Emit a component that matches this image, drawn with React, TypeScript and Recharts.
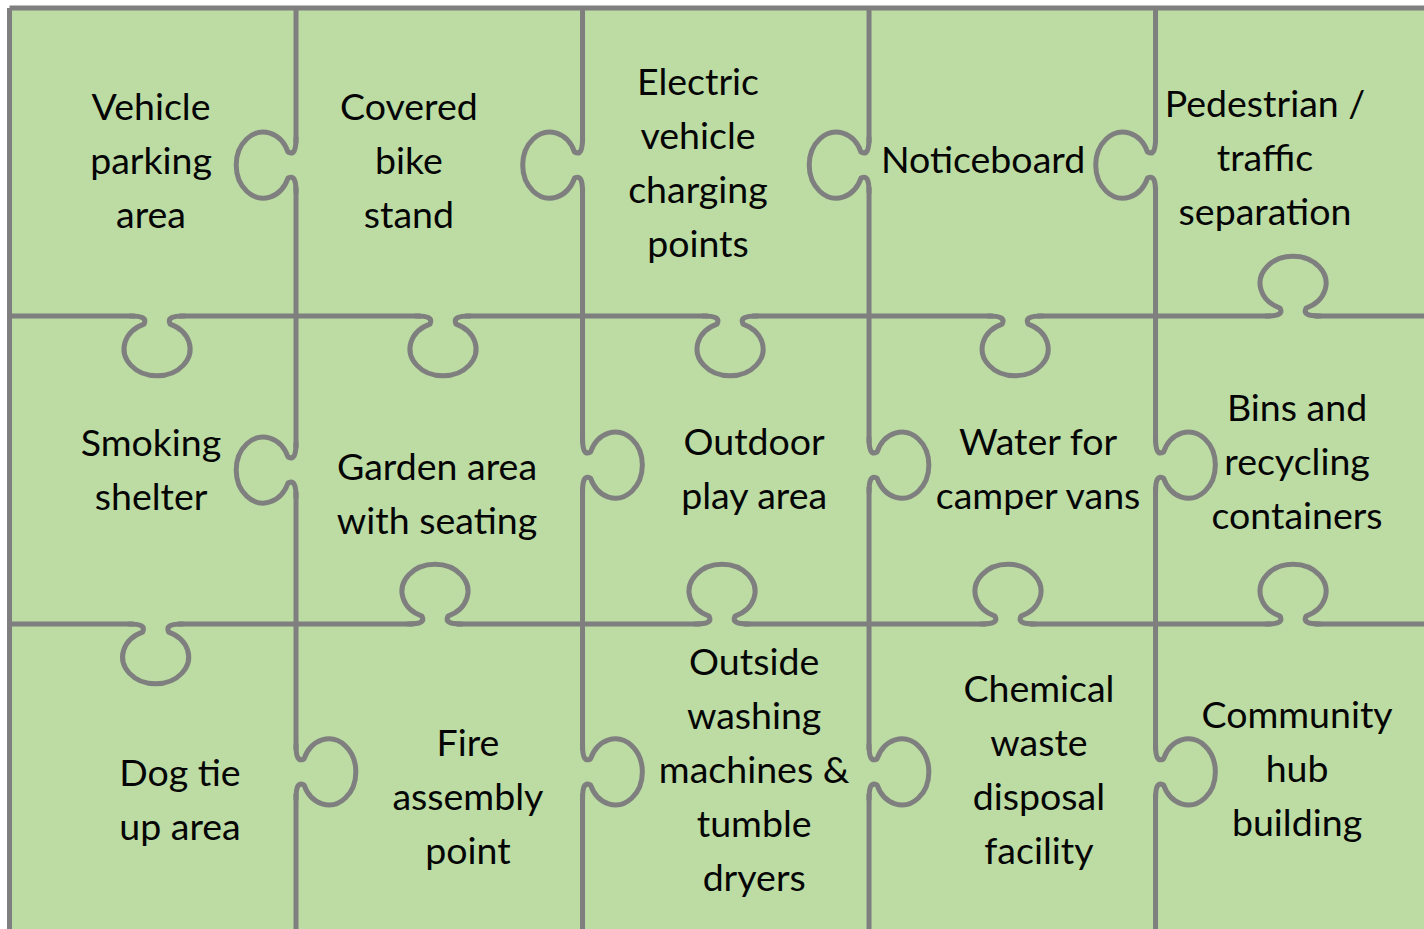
import React from 'react';
import { ScatterChart, Scatter, XAxis, YAxis, ReferenceLine, ReferenceArea } from 'recharts';

// Grid of puzzle pieces (grid units: columns 0..5, rows 0..3)
const columnEdges = [0, 1, 2, 3, 4, 5];
const rowEdges = [0, 1, 2, 3];

// Knobs: position of the neck on an edge, and the direction the knob points
const verticalKnobs = [
  { x: 1, y: 0.51, dir: 'left' },
  { x: 2, y: 0.51, dir: 'left' },
  { x: 3, y: 0.51, dir: 'left' },
  { x: 4, y: 0.51, dir: 'left' },
  { x: 1, y: 1.5, dir: 'left' },
  { x: 2, y: 1.484, dir: 'right' },
  { x: 3, y: 1.484, dir: 'right' },
  { x: 4, y: 1.484, dir: 'right' },
  { x: 1, y: 2.48, dir: 'right' },
  { x: 2, y: 2.48, dir: 'right' },
  { x: 3, y: 2.48, dir: 'right' },
  { x: 4, y: 2.48, dir: 'right' },
];

const horizontalKnobs = [
  { x: 0.515, y: 1, dir: 'down' },
  { x: 1.513, y: 1, dir: 'down' },
  { x: 2.515, y: 1, dir: 'down' },
  { x: 3.51, y: 1, dir: 'down' },
  { x: 4.48, y: 1, dir: 'up' },
  { x: 0.51, y: 2, dir: 'down' },
  { x: 1.485, y: 2, dir: 'up' },
  { x: 2.487, y: 2, dir: 'up' },
  { x: 3.485, y: 2, dir: 'up' },
  { x: 4.48, y: 2, dir: 'up' },
];

// Piece labels
const pieceLabels = [
  { x: 0.494, y: 0.497, lines: ['Vehicle', 'parking', 'area'] },
  { x: 1.394, y: 0.497, lines: ['Covered', 'bike', 'stand'] },
  { x: 2.403, y: 0.502, lines: ['Electric', 'vehicle', 'charging', 'points'] },
  { x: 3.398, y: 0.494, lines: ['Noticeboard'] },
  { x: 4.382, y: 0.487, lines: ['Pedestrian /', 'traffic', 'separation'] },
  { x: 0.494, y: 1.5, lines: ['Smoking', 'shelter'] },
  { x: 1.492, y: 1.578, lines: ['Garden area', 'with seating'] },
  { x: 2.599, y: 1.495, lines: ['Outdoor', 'play area'] },
  { x: 3.59, y: 1.495, lines: ['Water for', 'camper vans'] },
  { x: 4.494, y: 1.474, lines: ['Bins and', 'recycling', 'containers'] },
  { x: 0.595, y: 2.571, lines: ['Dog tie', 'up area'] },
  { x: 1.6, y: 2.562, lines: ['Fire', 'assembly', 'point'] },
  { x: 2.599, y: 2.474, lines: ['Outside', 'washing', 'machines &', 'tumble', 'dryers'] },
  { x: 3.593, y: 2.474, lines: ['Chemical', 'waste', 'disposal', 'facility'] },
  { x: 4.494, y: 2.471, lines: ['Community', 'hub', 'building'] },
];

const GREEN = '#BCDCA4';
const LINE = '#7F7F7F';
const LINE_W = 5;
const FONT = 'Lato, "Open Sans", sans-serif';
const FONT_SIZE = 37.5;
const LINE_HEIGHT = 54;

const ROT: Record<string, number> = { up: 0, right: 90, down: 180, left: 270 };

const KnobShape = (props: any) => {
  const { cx, cy, payload } = props;
  if (cx == null || cy == null) return null;
  return (
    <g transform={`translate(${cx},${cy}) rotate(${ROT[payload.dir]})`}>
      <rect x={-22} y={-4} width={44} height={8} fill={GREEN} />
      <path
        d="M -27 0 C -15 0 -10 -2 -13 -8 A 33 27 0 1 1 13 -8 C 10 -2 15 0 27 0"
        fill="none"
        stroke={LINE}
        strokeWidth={LINE_W}
        strokeLinejoin="round"
        strokeLinecap="round"
      />
    </g>
  );
};

const LabelShape = (props: any) => {
  const { cx, cy, payload } = props;
  if (cx == null || cy == null) return null;
  const lines: string[] = payload.lines;
  const n = lines.length;
  return (
    <text textAnchor="middle" fontFamily={FONT} fontSize={FONT_SIZE} fill="#050505">
      {lines.map((l, i) => (
        <tspan key={i} x={cx} y={cy + 13 + (i - (n - 1) / 2) * LINE_HEIGHT}>
          {l}
        </tspan>
      ))}
    </text>
  );
};

export default function App() {
  const xMax = columnEdges[columnEdges.length - 1];
  const yMax = rowEdges[rowEdges.length - 1];
  return (
    <div style={{ position: 'absolute', left: 0, top: 0, width: 1424, height: 929, background: '#ffffff' }}>
      <ScatterChart width={1424} height={929} margin={{ top: 0, right: 0, bottom: 0, left: 0 }}>
        <XAxis type="number" dataKey="x" domain={[-0.0332, 4.937]} hide allowDataOverflow />
        <YAxis type="number" dataKey="y" domain={[-0.026, 2.99]} reversed hide allowDataOverflow />
        <ReferenceArea
          x1={0}
          x2={xMax}
          y1={0}
          y2={yMax}
          fill={GREEN}
          fillOpacity={1}
          stroke="none"
          ifOverflow="visible"
        />
        {rowEdges.map((r) => (
          <ReferenceLine
            key={'h' + r}
            segment={[
              { x: 0, y: r },
              { x: xMax, y: r },
            ]}
            stroke={LINE}
            strokeWidth={LINE_W}
            ifOverflow="visible"
          />
        ))}
        {columnEdges.map((c) => (
          <ReferenceLine
            key={'v' + c}
            segment={[
              { x: c, y: 0 },
              { x: c, y: yMax },
            ]}
            stroke={LINE}
            strokeWidth={LINE_W}
            ifOverflow="visible"
          />
        ))}
        <Scatter data={verticalKnobs} shape={KnobShape} isAnimationActive={false} />
        <Scatter data={horizontalKnobs} shape={KnobShape} isAnimationActive={false} />
        <Scatter data={pieceLabels} shape={LabelShape} isAnimationActive={false} />
      </ScatterChart>
    </div>
  );
}
